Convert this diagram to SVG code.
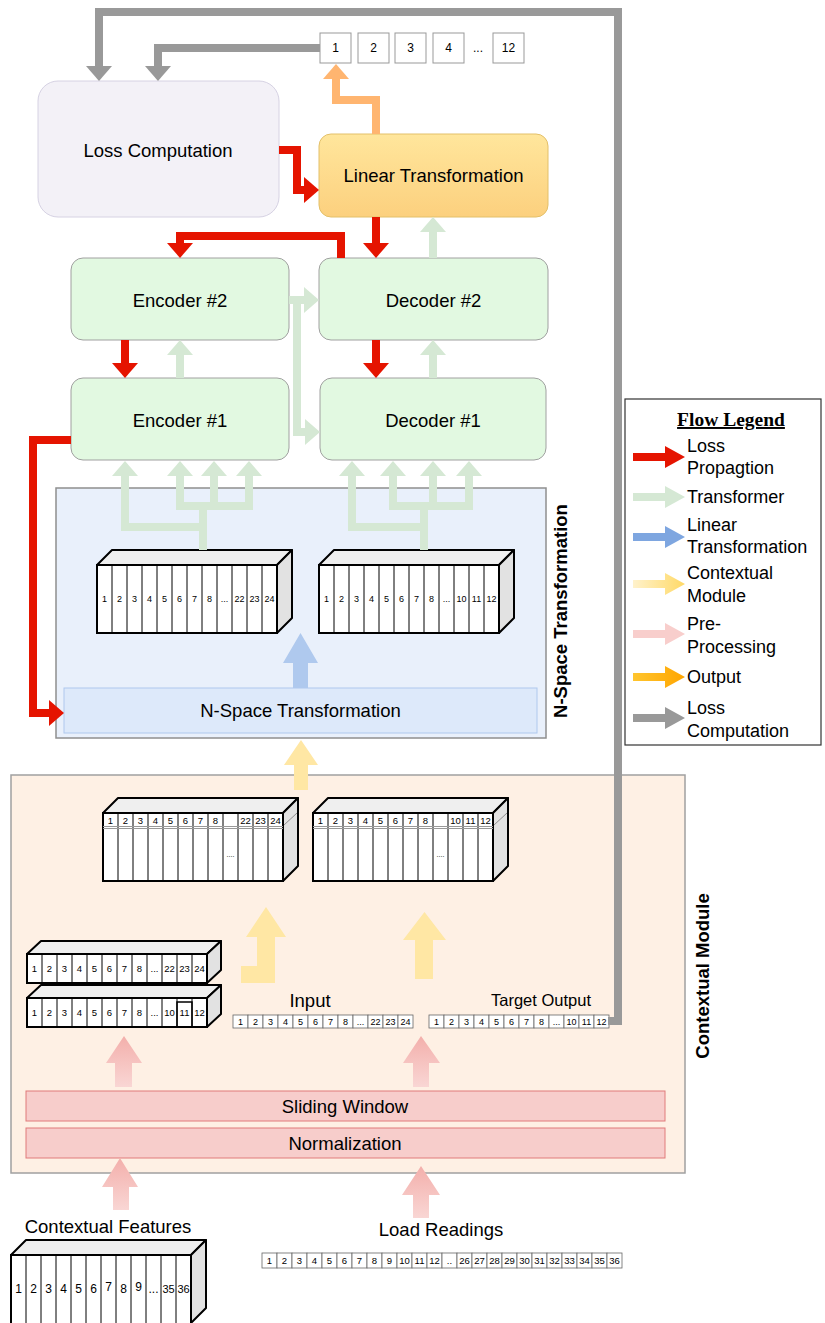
<svg xmlns="http://www.w3.org/2000/svg" width="825" height="1323" viewBox="0 0 825 1323">
<style>
text{font-family:"Liberation Sans",Arial,sans-serif;fill:#000}
.lbl{font-size:18.5px;text-anchor:middle}
.vt{font-size:18.5px;font-weight:bold;text-anchor:middle}
.leg{font-family:"Liberation Serif","Times New Roman",serif;font-size:18px}
.legt{font-family:"Liberation Serif","Times New Roman",serif;font-size:19.5px;font-weight:bold;text-anchor:middle;text-decoration:underline}
.c9{font-size:9px;text-anchor:middle}
.c95{font-size:9.5px;text-anchor:middle}
.c12{font-size:12px;text-anchor:middle}
.b-top{fill:#EFEFEF;stroke:#000;stroke-width:2;stroke-linejoin:round}
.b-side{fill:#E2E2E2;stroke:#000;stroke-width:2;stroke-linejoin:round}
.b-front{fill:#fff;stroke:#000;stroke-width:2}
.div{fill:none;stroke:#000;stroke-width:1}
.cell{fill:#fff;stroke:#666;stroke-width:0.8}
.box{fill:#fff;stroke:#999;stroke-width:1}
.enc{fill:#E2F9E1;stroke:#A0A0A0;stroke-width:1}
.flow{fill:none;stroke-width:8;stroke-linejoin:miter}
.red{stroke:#E51400}
.green{stroke:#D5E8D4}
.gray{stroke:#999}
.orange{stroke:#FFB570}
.pink{fill:url(#gPink)}
.yel{fill:#FFE7A4}
</style>
<defs>
  <marker id="mRed" markerUnits="userSpaceOnUse" viewBox="0 0 15 26" markerWidth="15" markerHeight="26" refX="0" refY="13" orient="auto-start-reverse"><path d="M0 0L15 13L0 26Z" fill="#E51400"/></marker>
  <marker id="mGreen" markerUnits="userSpaceOnUse" viewBox="0 0 15 26" markerWidth="15" markerHeight="26" refX="0" refY="13" orient="auto-start-reverse"><path d="M0 0L15 13L0 26Z" fill="#D5E8D4"/></marker>
  <marker id="mGray" markerUnits="userSpaceOnUse" viewBox="0 0 15 26" markerWidth="15" markerHeight="26" refX="0" refY="13" orient="auto-start-reverse"><path d="M0 0L15 13L0 26Z" fill="#999"/></marker>
  <marker id="mOrange" markerUnits="userSpaceOnUse" viewBox="0 0 15 26" markerWidth="15" markerHeight="26" refX="0" refY="13" orient="auto-start-reverse"><path d="M0 0L15 13L0 26Z" fill="#FFB570"/></marker>
  <linearGradient id="gLin" x1="0" y1="0" x2="0" y2="1"><stop offset="0" stop-color="#FFE69C"/><stop offset="1" stop-color="#FCD07E"/></linearGradient>
  <linearGradient id="gPink" x1="0" y1="0" x2="0" y2="1"><stop offset="0" stop-color="#F3AFAB"/><stop offset="1" stop-color="#F9D6D4"/></linearGradient>
  <linearGradient id="gLegY" x1="0" y1="0" x2="1" y2="0"><stop offset="0" stop-color="#FFF2CC"/><stop offset="1" stop-color="#FFD966"/></linearGradient>
  <linearGradient id="gLegO" x1="0" y1="0" x2="1" y2="0"><stop offset="0" stop-color="#FFC52E"/><stop offset="1" stop-color="#FFA500"/></linearGradient>
  <path id="legArrow" d="M0 -4H32V-11L52 0L32 11V4H0Z"/>
  <!-- 12-cell block outline pieces -->
  <path id="div68" d="M15 0V68M30 0V68M45 0V68M60 0V68M75 0V68M90 0V68M105 0V68M120 0V68M135 0V68M150 0V68M165 0V68"/>
  <path id="div29" d="M15 0V29M30 0V29M45 0V29M60 0V29M75 0V29M90 0V29M105 0V29M120 0V29M135 0V29M150 0V29M165 0V29"/>
</defs>

<rect width="825" height="1323" fill="#fff"/>

<!-- region containers -->
<g id="nspace-region">
  <rect x="56" y="488" width="490" height="250" fill="#E9F0FB" stroke="#8F8F8F" stroke-width="1.5"/>
  <text class="vt" transform="translate(567,611) rotate(-90)">N-Space Transformation</text>
</g>
<g id="contextual-region">
  <rect x="11" y="775" width="674" height="398" fill="#FEF0E4" stroke="#A0A0A0" stroke-width="1.5"/>
  <text class="vt" transform="translate(709,976) rotate(-90)">Contextual Module</text>
</g>

<!-- top output values -->
<g id="output-values">
  <rect class="box" x="320" y="33" width="31" height="30"/><text class="c12" x="335.5" y="52">1</text>
  <rect class="box" x="358" y="33" width="31" height="30"/><text class="c12" x="373.5" y="52">2</text>
  <rect class="box" x="395" y="33" width="31" height="30"/><text class="c12" x="410.5" y="52">3</text>
  <rect class="box" x="433" y="33" width="31" height="30"/><text class="c12" x="448.5" y="52">4</text>
  <text class="c12" x="478" y="52">...</text>
  <rect class="box" x="493" y="33" width="31" height="30"/><text class="c12" x="508.5" y="52">12</text>
</g>

<g id="loss-computation">
  <rect x="38" y="81" width="241" height="136" rx="20" fill="#F3F1F7" stroke="#D6D2E3" stroke-width="1"/>
  <text class="lbl" x="158" y="156.5">Loss Computation</text>
</g>
<g id="linear-transformation">
  <rect x="319" y="134" width="229" height="83" rx="12" fill="url(#gLin)" stroke="#E3C06A" stroke-width="1"/>
  <text class="lbl" x="433.5" y="181.5">Linear Transformation</text>
</g>
<g id="encoder-2">
  <rect class="enc" x="71" y="258" width="218" height="82" rx="12"/>
  <text class="lbl" x="180" y="306.5">Encoder #2</text>
</g>
<g id="decoder-2">
  <rect class="enc" x="319" y="258" width="229" height="82" rx="12"/>
  <text class="lbl" x="433.5" y="306.5">Decoder #2</text>
</g>
<g id="encoder-1">
  <rect class="enc" x="71" y="378" width="218" height="82" rx="12"/>
  <text class="lbl" x="180" y="426.5">Encoder #1</text>
</g>
<g id="decoder-1">
  <rect class="enc" x="320" y="378" width="226" height="82" rx="12"/>
  <text class="lbl" x="433" y="426.5">Decoder #1</text>
</g>

<!-- embedded input sequence (24 steps) -->
<g id="nspace-input-block" transform="translate(97,565)">
  <polygon class="b-top" points="0,0 15,-15 195,-15 180,0"/>
  <polygon class="b-side" points="180,0 195,-15 195,53 180,68"/>
  <rect class="b-front" x="0" y="0" width="180" height="68"/>
  <use href="#div68" class="div"/>
  <g class="c9">
    <text x="7.5" y="37">1</text><text x="22.5" y="37">2</text><text x="37.5" y="37">3</text><text x="52.5" y="37">4</text>
    <text x="67.5" y="37">5</text><text x="82.5" y="37">6</text><text x="97.5" y="37">7</text><text x="112.5" y="37">8</text>
    <text x="127.5" y="37">...</text><text x="142.5" y="37">22</text><text x="157.5" y="37">23</text><text x="172.5" y="37">24</text>
  </g>
</g>
<!-- embedded target sequence (12 steps) -->
<g id="nspace-target-block" transform="translate(319,565)">
  <polygon class="b-top" points="0,0 15,-15 195,-15 180,0"/>
  <polygon class="b-side" points="180,0 195,-15 195,53 180,68"/>
  <rect class="b-front" x="0" y="0" width="180" height="68"/>
  <use href="#div68" class="div"/>
  <g class="c9">
    <text x="7.5" y="37">1</text><text x="22.5" y="37">2</text><text x="37.5" y="37">3</text><text x="52.5" y="37">4</text>
    <text x="67.5" y="37">5</text><text x="82.5" y="37">6</text><text x="97.5" y="37">7</text><text x="112.5" y="37">8</text>
    <text x="127.5" y="37">...</text><text x="142.5" y="37">10</text><text x="157.5" y="37">11</text><text x="172.5" y="37">12</text>
  </g>
</g>

<g id="nspace-transformation">
  <rect x="64" y="688" width="473" height="45" fill="#DDE9FA" stroke="#AFC8EE" stroke-width="1"/>
  <text class="lbl" x="300.5" y="717">N-Space Transformation</text>
</g>

<!-- contextual windows with features -->
<g id="context-input-block" transform="translate(103,813)">
  <polygon class="b-top" points="0,0 15,-15 195,-15 180,0"/>
  <polygon class="b-side" points="180,0 195,-15 195,53 180,68"/>
  <path d="M181 12L194 0" stroke="#777" stroke-width="0.8" fill="none"/>
  <rect class="b-front" x="0" y="0" width="180" height="68"/>
  <use href="#div68" class="div"/>
  <path d="M0 13.5H180M0 15.5H180" stroke="#999" stroke-width="1" fill="none"/>
  <g class="c95">
    <text x="7.5" y="10.5">1</text><text x="22.5" y="10.5">2</text><text x="37.5" y="10.5">3</text><text x="52.5" y="10.5">4</text>
    <text x="67.5" y="10.5">5</text><text x="82.5" y="10.5">6</text><text x="97.5" y="10.5">7</text><text x="112.5" y="10.5">8</text>
    <text x="142.5" y="10.5">22</text><text x="157.5" y="10.5">23</text><text x="172.5" y="10.5">24</text>
  </g>
  <text x="127.5" y="44" font-size="7" text-anchor="middle">....</text>
</g>
<g id="context-target-block" transform="translate(313,813)">
  <polygon class="b-top" points="0,0 15,-15 195,-15 180,0"/>
  <polygon class="b-side" points="180,0 195,-15 195,53 180,68"/>
  <path d="M181 12L194 0" stroke="#777" stroke-width="0.8" fill="none"/>
  <rect class="b-front" x="0" y="0" width="180" height="68"/>
  <use href="#div68" class="div"/>
  <path d="M0 13.5H180M0 15.5H180" stroke="#999" stroke-width="1" fill="none"/>
  <g class="c95">
    <text x="7.5" y="10.5">1</text><text x="22.5" y="10.5">2</text><text x="37.5" y="10.5">3</text><text x="52.5" y="10.5">4</text>
    <text x="67.5" y="10.5">5</text><text x="82.5" y="10.5">6</text><text x="97.5" y="10.5">7</text><text x="112.5" y="10.5">8</text>
    <text x="142.5" y="10.5">10</text><text x="157.5" y="10.5">11</text><text x="172.5" y="10.5">12</text>
  </g>
  <text x="127.5" y="44" font-size="7" text-anchor="middle">....</text>
</g>

<!-- feature windows after sliding window -->
<g id="feature-window-24" transform="translate(27,954)">
  <polygon class="b-top" points="0,0 14,-13 194,-13 180,0"/>
  <polygon class="b-side" points="180,0 194,-13 194,16 180,29"/>
  <rect class="b-front" x="0" y="0" width="180" height="29"/>
  <use href="#div29" class="div"/>
  <g class="c95">
    <text x="7.5" y="18">1</text><text x="22.5" y="18">2</text><text x="37.5" y="18">3</text><text x="52.5" y="18">4</text>
    <text x="67.5" y="18">5</text><text x="82.5" y="18">6</text><text x="97.5" y="18">7</text><text x="112.5" y="18">8</text>
    <text x="127.5" y="18">...</text><text x="142.5" y="18">22</text><text x="157.5" y="18">23</text><text x="172.5" y="18">24</text>
  </g>
</g>
<g id="feature-window-12" transform="translate(27,998)">
  <polygon class="b-top" points="0,0 14,-13 194,-13 180,0"/>
  <polygon class="b-side" points="180,0 194,-13 194,16 180,29"/>
  <rect class="b-front" x="0" y="0" width="180" height="29"/>
  <use href="#div29" class="div"/>
  <rect x="150" y="4" width="15" height="25" fill="none" stroke="#000" stroke-width="1.5"/>
  <g class="c95">
    <text x="7.5" y="18">1</text><text x="22.5" y="18">2</text><text x="37.5" y="18">3</text><text x="52.5" y="18">4</text>
    <text x="67.5" y="18">5</text><text x="82.5" y="18">6</text><text x="97.5" y="18">7</text><text x="112.5" y="18">8</text>
    <text x="127.5" y="18">...</text><text x="142.5" y="18">10</text><text x="157.5" y="18">11</text><text x="172.5" y="18">12</text>
  </g>
</g>

<g id="input-sequence">
  <text class="lbl" x="310" y="1006.5">Input</text>
  <g transform="translate(233,1015)">
    <rect class="cell" x="0" y="0" width="15" height="13"/><rect class="cell" x="15" y="0" width="15" height="13"/><rect class="cell" x="30" y="0" width="15" height="13"/><rect class="cell" x="45" y="0" width="15" height="13"/>
    <rect class="cell" x="60" y="0" width="15" height="13"/><rect class="cell" x="75" y="0" width="15" height="13"/><rect class="cell" x="90" y="0" width="15" height="13"/><rect class="cell" x="105" y="0" width="15" height="13"/>
    <rect class="cell" x="120" y="0" width="15" height="13"/><rect class="cell" x="135" y="0" width="15" height="13"/><rect class="cell" x="150" y="0" width="15" height="13"/><rect class="cell" x="165" y="0" width="15" height="13"/>
    <g class="c9">
      <text x="7.5" y="10">1</text><text x="22.5" y="10">2</text><text x="37.5" y="10">3</text><text x="52.5" y="10">4</text>
      <text x="67.5" y="10">5</text><text x="82.5" y="10">6</text><text x="97.5" y="10">7</text><text x="112.5" y="10">8</text>
      <text x="127.5" y="10">...</text><text x="142.5" y="10">22</text><text x="157.5" y="10">23</text><text x="172.5" y="10">24</text>
    </g>
  </g>
</g>
<g id="target-output-sequence">
  <text x="541" y="1006" font-size="16.5" text-anchor="middle">Target Output</text>
  <g transform="translate(429,1015)">
    <rect class="cell" x="0" y="0" width="15" height="13"/><rect class="cell" x="15" y="0" width="15" height="13"/><rect class="cell" x="30" y="0" width="15" height="13"/><rect class="cell" x="45" y="0" width="15" height="13"/>
    <rect class="cell" x="60" y="0" width="15" height="13"/><rect class="cell" x="75" y="0" width="15" height="13"/><rect class="cell" x="90" y="0" width="15" height="13"/><rect class="cell" x="105" y="0" width="15" height="13"/>
    <rect class="cell" x="120" y="0" width="15" height="13"/><rect class="cell" x="135" y="0" width="15" height="13"/><rect class="cell" x="150" y="0" width="15" height="13"/><rect class="cell" x="165" y="0" width="15" height="13"/>
    <g class="c9">
      <text x="7.5" y="10">1</text><text x="22.5" y="10">2</text><text x="37.5" y="10">3</text><text x="52.5" y="10">4</text>
      <text x="67.5" y="10">5</text><text x="82.5" y="10">6</text><text x="97.5" y="10">7</text><text x="112.5" y="10">8</text>
      <text x="127.5" y="10">...</text><text x="142.5" y="10">10</text><text x="157.5" y="10">11</text><text x="172.5" y="10">12</text>
    </g>
  </g>
</g>

<g id="sliding-window">
  <rect x="26" y="1091" width="639" height="30" fill="#F7CDCB" stroke="#E07A7A" stroke-width="1"/>
  <text class="lbl" x="345" y="1112.5">Sliding Window</text>
</g>
<g id="normalization">
  <rect x="26" y="1128" width="639" height="30" fill="#F7CDCB" stroke="#E07A7A" stroke-width="1"/>
  <text class="lbl" x="345" y="1149.5">Normalization</text>
</g>

<g id="contextual-features">
  <text class="lbl" x="108" y="1232.5">Contextual Features</text>
  <g transform="translate(11,1255)">
    <polygon class="b-top" points="0,0 15,-15 195,-15 180,0"/>
    <polygon class="b-side" points="180,0 195,-15 195,53 180,68"/>
    <rect class="b-front" x="0" y="0" width="180" height="70"/>
    <use href="#div68" class="div"/>
    <g class="c12">
      <text x="7.5" y="38">1</text><text x="22.5" y="38">2</text><text x="37.5" y="38">3</text><text x="52.5" y="38">4</text>
      <text x="67.5" y="38">5</text><text x="82.5" y="38">6</text><text x="97.5" y="36">7</text><text x="112.5" y="38">8</text>
      <text x="127.5" y="36">9</text><text x="142.5" y="38">...</text><text x="157.5" y="38" font-size="11">35</text><text x="172.5" y="38" font-size="11">36</text>
    </g>
  </g>
</g>

<g id="load-readings">
  <text class="lbl" x="441" y="1235.5">Load Readings</text>
  <g transform="translate(262,1253)">
    <rect class="cell" x="0" y="0" width="15" height="15"/><rect class="cell" x="15" y="0" width="15" height="15"/><rect class="cell" x="30" y="0" width="15" height="15"/><rect class="cell" x="45" y="0" width="15" height="15"/>
    <rect class="cell" x="60" y="0" width="15" height="15"/><rect class="cell" x="75" y="0" width="15" height="15"/><rect class="cell" x="90" y="0" width="15" height="15"/><rect class="cell" x="105" y="0" width="15" height="15"/>
    <rect class="cell" x="120" y="0" width="15" height="15"/><rect class="cell" x="135" y="0" width="15" height="15"/><rect class="cell" x="150" y="0" width="15" height="15"/><rect class="cell" x="165" y="0" width="15" height="15"/>
    <rect class="cell" x="180" y="0" width="15" height="15"/><rect class="cell" x="195" y="0" width="15" height="15"/><rect class="cell" x="210" y="0" width="15" height="15"/><rect class="cell" x="225" y="0" width="15" height="15"/>
    <rect class="cell" x="240" y="0" width="15" height="15"/><rect class="cell" x="255" y="0" width="15" height="15"/><rect class="cell" x="270" y="0" width="15" height="15"/><rect class="cell" x="285" y="0" width="15" height="15"/>
    <rect class="cell" x="300" y="0" width="15" height="15"/><rect class="cell" x="315" y="0" width="15" height="15"/><rect class="cell" x="330" y="0" width="15" height="15"/><rect class="cell" x="345" y="0" width="15" height="15"/>
    <g class="c95">
      <text x="7.5" y="11">1</text><text x="22.5" y="11">2</text><text x="37.5" y="11">3</text><text x="52.5" y="11">4</text>
      <text x="67.5" y="11">5</text><text x="82.5" y="11">6</text><text x="97.5" y="11">7</text><text x="112.5" y="11">8</text>
      <text x="127.5" y="11">9</text><text x="142.5" y="11">10</text><text x="157.5" y="11">11</text><text x="172.5" y="11">12</text>
      <text x="187.5" y="11">..</text><text x="202.5" y="11">26</text><text x="217.5" y="11">27</text><text x="232.5" y="11">28</text>
      <text x="247.5" y="11">29</text><text x="262.5" y="11">30</text><text x="277.5" y="11">31</text><text x="292.5" y="11">32</text>
      <text x="307.5" y="11">33</text><text x="322.5" y="11">34</text><text x="337.5" y="11">35</text><text x="352.5" y="11">36</text>
    </g>
  </g>
</g>

<!-- flow legend -->
<g id="flow-legend">
  <rect x="625" y="399" width="196" height="346" fill="#fff" stroke="#333" stroke-width="1.2"/>
  <text class="legt" x="731" y="426">Flow Legend</text>
  <use href="#legArrow" x="633" y="457" fill="#E51400"/>
  <use href="#legArrow" x="633" y="497" fill="#D5E8D4"/>
  <use href="#legArrow" x="633" y="537" fill="#7EA6E0"/>
  <use href="#legArrow" x="633" y="584" fill="url(#gLegY)"/>
  <use href="#legArrow" x="633" y="634" fill="#F8CECC"/>
  <use href="#legArrow" x="633" y="677" fill="url(#gLegO)"/>
  <use href="#legArrow" x="633" y="718" fill="#999"/>
  <g class="leg">
    <text x="687" y="452">Loss</text><text x="687" y="474">Propagtion</text>
    <text x="687" y="503">Transformer</text>
    <text x="687" y="531">Linear</text><text x="687" y="553">Transformation</text>
    <text x="687" y="579">Contextual</text><text x="687" y="602">Module</text>
    <text x="687" y="630">Pre-</text><text x="687" y="653">Processing</text>
    <text x="687" y="683">Output</text>
    <text x="687" y="714">Loss</text><text x="687" y="737">Computation</text>
  </g>
</g>

<!-- connectors -->
<g id="connectors">
  <!-- loss computation feedback -->
  <path class="flow gray" d="M608 1021H618V12H99V66" marker-end="url(#mGray)"/>
  <path class="flow gray" d="M320 48H158V66" marker-end="url(#mGray)"/>
  <!-- output -->
  <path class="flow orange" d="M376 134V100H336V79" marker-end="url(#mOrange)"/>
  <!-- loss propagation -->
  <path class="flow red" d="M279 150H297V190H304" marker-end="url(#mRed)"/>
  <path class="flow red" d="M341 258V236H180V243" marker-end="url(#mRed)"/>
  <path class="flow red" d="M376 217V243" marker-end="url(#mRed)"/>
  <path class="flow red" d="M125 340V363" marker-end="url(#mRed)"/>
  <path class="flow red" d="M376 340V363" marker-end="url(#mRed)"/>
  <path class="flow red" d="M71 440H33V713H49" marker-end="url(#mRed)"/>
  <!-- transformer flow -->
  <path class="flow green" d="M180 378V355" marker-end="url(#mGreen)"/>
  <path class="flow green" d="M433 378V355" marker-end="url(#mGreen)"/>
  <path class="flow green" d="M433 258V232" marker-end="url(#mGreen)"/>
  <path class="flow green" d="M289 300H304" marker-end="url(#mGreen)"/>
  <path class="flow green" d="M297 300V432H305" marker-end="url(#mGreen)"/>
  <path class="flow green" d="M125 476V527H203V550" marker-start="url(#mGreen)"/>
  <path class="flow green" d="M203 531V506"/>
  <path class="flow green" d="M180 476V506H249V476" marker-start="url(#mGreen)" marker-end="url(#mGreen)"/>
  <path class="flow green" d="M214 506V476" marker-end="url(#mGreen)"/>
  <path class="flow green" d="M352 476V527H424V550" marker-start="url(#mGreen)"/>
  <path class="flow green" d="M424 531V506"/>
  <path class="flow green" d="M393 476V506H469V476" marker-start="url(#mGreen)" marker-end="url(#mGreen)"/>
  <path class="flow green" d="M433 506V476" marker-end="url(#mGreen)"/>
  <!-- linear transformation into embedding -->
  <polygon points="293,688 308,688 308,663 318,663 300.5,633 283,663 293,663" fill="#AFC9EE"/>
  <!-- contextual module flow -->
  <polygon class="yel" points="294,790 308,790 308,765 318,765 301,740 284,765 294,765"/>
  <polygon class="yel" points="241,983 241,966 257,966 257,937 246,937 266,907 286,937 275,937 275,983"/>
  <polygon class="yel" points="415,979 433,979 433,940 446,940 424.5,912 403,940 415,940"/>
  <!-- pre-processing flow -->
  <polygon class="pink" points="115,1087 132,1087 132,1063 142,1063 124,1036 106,1063 115,1063"/>
  <polygon class="pink" points="413,1087 429,1087 429,1063 440,1063 421,1036 403,1063 413,1063"/>
  <polygon class="pink" points="113,1210 129,1210 129,1187 138,1187 120,1158 102,1187 113,1187"/>
  <polygon class="pink" points="413,1218 429,1218 429,1195 440,1195 421,1166 402,1195 413,1195"/>
</g>
</svg>
